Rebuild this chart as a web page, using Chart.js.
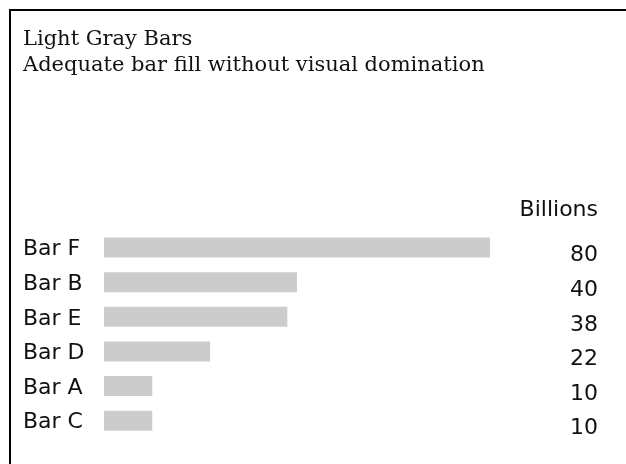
<!DOCTYPE html>
<html>
<head>
<meta charset="utf-8">
<title>Light Gray Bars</title>
<script src="https://cdn.jsdelivr.net/npm/chart.js@4.4.1/dist/chart.umd.min.js"></script>
<style>
    html, body { margin: 0; padding: 0; background: #fff; }
    #wrap { position: relative; width: 626px; height: 464px; overflow: hidden; }
    #frame { position: absolute; left: 9px; top: 9px; right: -10px; bottom: -10px; border-top: 2px solid #000; border-left: 2px solid #000; }
    #barChart { position: absolute; left: 0; top: 0; }
</style>
</head>
<body>
<div id="wrap">
    <div id="frame"></div>
    <canvas id="barChart" width="626" height="464"></canvas>
</div>
<script>
    // data
    var barNames = ["Bar F", "Bar B", "Bar E", "Bar D", "Bar A", "Bar C"];
    var barValues = [80, 40, 38, 22, 10, 10];
    var titleLines = ["Light Gray Bars", "Adequate bar fill without visual domination"];
    var unitLabel = "Billions";

    var labelFont = { family: "'DejaVu Sans', Verdana, sans-serif", size: 22 };

    // "Billions" header over the value column
    var unitHeader = {
        id: 'unitHeader',
        afterDraw: function (chart) {
            var ctx = chart.ctx;
            var rightAxis = chart.scales.yValues;
            ctx.save();
            ctx.font = "22px 'DejaVu Sans', Verdana, sans-serif";
            ctx.fillStyle = '#111';
            ctx.textAlign = 'right';
            ctx.textBaseline = 'alphabetic';
            ctx.fillText(unitLabel, rightAxis.right, chart.chartArea.top - 14);
            ctx.restore();
        }
    };

    var barChart = new Chart(document.getElementById('barChart'), {
        type: 'bar',
        data: {
            labels: barNames,
            datasets: [
                {
                    label: unitLabel,
                    data: barValues,
                    backgroundColor: '#cccccc',
                    borderWidth: 0,
                    barPercentage: 0.58,
                    categoryPercentage: 1
                }
            ]
        },
        options: {
            indexAxis: 'y',
            responsive: false,
            animation: false,
            devicePixelRatio: 1,
            layout: {
                padding: { left: 23, right: 28, top: 0, bottom: 26 }
            },
            plugins: {
                legend: { display: false },
                tooltip: { enabled: false },
                title: {
                    display: true,
                    text: titleLines,
                    align: 'start',
                    color: '#111',
                    font: { family: "'DejaVu Serif', Georgia, serif", size: 21, weight: 'normal', lineHeight: 1.22 },
                    padding: { top: 27, bottom: 152 }
                }
            },
            scales: {
                x: {
                    display: false,
                    min: 0,
                    max: 80,
                    grid: { display: false }
                },
                y: {
                    position: 'left',
                    grid: { display: false },
                    border: { display: false },
                    ticks: {
                        crossAlign: 'far',
                        labelOffset: 2,
                        color: '#111',
                        font: labelFont
                    },
                    afterFit: function (scale) {
                        scale.width = 81;
                    }
                },
                yValues: {
                    type: 'category',
                    axis: 'y',
                    position: 'right',
                    labels: barValues.map(String),
                    grid: { display: false },
                    border: { display: false },
                    ticks: {
                        crossAlign: 'far',
                        labelOffset: 8,
                        color: '#111',
                        font: labelFont
                    },
                    afterFit: function (scale) {
                        scale.width = 108;
                    }
                }
            }
        },
        plugins: [unitHeader]
    });
</script>
</body>
</html>
